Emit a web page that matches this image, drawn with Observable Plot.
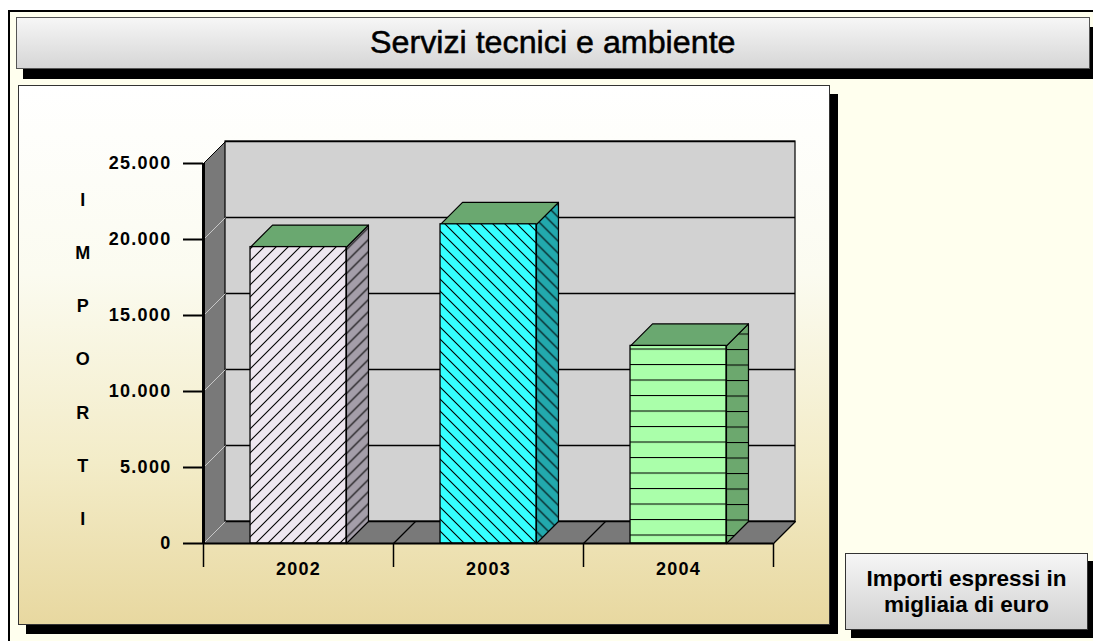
<!DOCTYPE html>
<html>
<head>
<meta charset="utf-8">
<script src="https://cdn.jsdelivr.net/npm/d3@7"></script>
<script src="https://cdn.jsdelivr.net/npm/@observablehq/plot@0.6"></script>
<style>
  html, body { margin: 0; padding: 0; background: #ffffff; width: 1093px; height: 641px; overflow: hidden; }
  #frame { position: absolute; left: 8px; top: 10px; width: 1090px; height: 640px; border-left: 2px solid #000; border-top: 2px solid #000; background: #ffffee; }
  #title { position: absolute; left: 16px; top: 17px; width: 1072px; height: 50px; border: 1px solid #555; background: linear-gradient(#f6f6f6, #d6d6d6); box-shadow: 7px 10px 0 #000; display: flex; align-items: center; justify-content: center; color: #000; }
  #title span { display: inline-block; font-family: "Liberation Sans", Arial, sans-serif; font-size: 31px; transform: scaleX(1.04); -webkit-text-stroke: 0.5px #000; }
  #plotbox { position: absolute; left: 18px; top: 85px; width: 810px; height: 538px; border: 1px solid #333; background: linear-gradient(#ffffff 0%, #fbfbf0 35%, #f3ecc8 70%, #e8d8a0 100%); box-shadow: 8px 9px 0 #000; }
  #chart { position: absolute; left: 18px; top: 85px; }
  #note { position: absolute; left: 845px; top: 553px; width: 241px; height: 75px; border: 1px solid #333; background: linear-gradient(#f6f6f6, #d0d0d0); box-shadow: 6px 8px 0 #000; display: flex; align-items: center; justify-content: center; text-align: center; color: #000; }
  #note span { display: inline-block; font-family: "Liberation Sans", Arial, sans-serif; font-weight: bold; font-size: 22.5px; line-height: 26px; }
</style>
</head>
<body>
<div id="frame"></div>
<div id="title"><span>Servizi tecnici e ambiente</span></div>
<div id="plotbox"></div>
<div id="chart"></div>
<div id="note"><span>Importi espressi in<br>migliaia di euro</span></div>
<script>
// ---- data ----
const years = ["2002", "2003", "2004"];
const values = [19500, 21000, 13000];
const yTicks = [0, 5000, 10000, 15000, 20000, 25000];
const yTickLabels = ["0", "5.000", "10.000", "15.000", "20.000", "25.000"];
const axisTitle = ["I", "M", "P", "O", "R", "T", "I"];

// ---- styles (per year) ----
const faceFill = {"2002": "url(#h2002)", "2003": "url(#h2003)", "2004": "url(#h2004)"};
const sideFill = {"2002": "url(#h2002s)", "2003": "url(#h2003s)", "2004": "url(#h2004s)"};
const topFill = "#6aa870";

// ---- layout ----
const W = 812, H = 540;
const mL = 185, mR = 57, mT = 78, mB = 82;
const yMax = 25000;
const depthPx = 22;
const DX = depthPx / ((W - mL - mR) / years.length);
const DY = depthPx / ((H - mT - mB) / yMax);
const hw = 0.2525;

function poly(id, fill, pts) {
  const closed = pts.concat([pts[0]]);
  return closed.map(([x, y]) => ({id, fill, x, y}));
}

const n = years.length;
const walls = [
  ...poly("side", "url(#dither)", [[0, 0], [0, yMax], [DX, yMax + DY], [DX, DY]]),
  ...poly("floor", "url(#dither)", [[0, 0], [n, 0], [n + DX, DY], [DX, DY]])
];

const bars = years.map((year, i) => ({year, value: values[i], i}));
const barPolys = bars.flatMap(d => {
  const x1 = d.i + 0.5 - hw, x2 = d.i + 0.5 + hw, v = d.value;
  return [
    ...poly("s" + d.year, sideFill[d.year], [[x2, 0], [x2 + DX, DY], [x2 + DX, v + DY], [x2, v]]),
    ...poly("t" + d.year, topFill, [[x1, v], [x2, v], [x2 + DX, v + DY], [x1 + DX, v + DY]])
  ];
});

const chart = Plot.plot({
  width: W, height: H,
  marginLeft: mL, marginRight: mR, marginTop: mT, marginBottom: mB,
  style: {background: "transparent", overflow: "visible", fontFamily: "Liberation Sans, Arial, sans-serif", fontWeight: "bold", fontSize: "18px", letterSpacing: "1.3px", color: "#000"},
  x: {domain: [0, n], range: [mL, W - mR]},
  y: {domain: [0, yMax], range: [H - mB, mT]},
  color: {type: "identity"},
  marks: [
    // side wall and floor
    Plot.line(walls, {x: "x", y: "y", z: "id", fill: "fill", stroke: "#000", strokeWidth: 1}),
    // back wall
    Plot.rect([0], {x1: DX, x2: n + DX, y1: DY, y2: yMax + DY, fill: "#d2d2d2", stroke: "#000", strokeWidth: 1.2}),
    // back wall gridlines
    Plot.ruleY(yTicks, {y: d => d + DY, x1: DX, x2: n + DX, stroke: "#000", strokeWidth: 1.5}),
    // side wall gridlines (faint)
    Plot.link(yTicks.slice(0, -1), {x1: () => 0, y1: d => d, x2: () => DX, y2: d => d + DY, stroke: "#c8c8c8", strokeWidth: 1}),
    // floor category separators
    Plot.link(d3.range(1, n + 1), {x1: d => d, y1: () => 0, x2: d => d + DX, y2: () => DY, stroke: "#000", strokeWidth: 1.2}),
    // bar side and top faces
    Plot.line(barPolys, {x: "x", y: "y", z: "id", fill: "fill", stroke: "#000", strokeWidth: 1.2, strokeLinejoin: "round"}),
    // bar front faces
    Plot.rect(bars, {x1: d => d.i + 0.5 - hw, x2: d => d.i + 0.5 + hw, y1: () => 0, y2: "value", fill: d => faceFill[d.year], stroke: "#000", strokeWidth: 1.3}),
    // front axis lines
    Plot.ruleX([0], {y1: 0, y2: yMax, stroke: "#000", strokeWidth: 3}),
    Plot.ruleY([0], {x1: 0, x2: n, stroke: "#000", strokeWidth: 2}),
    // y axis
    Plot.axisY({ticks: yTicks, tickFormat: d => yTickLabels[yTicks.indexOf(d)], tickSize: 20, tickPadding: 12, strokeWidth: 2, stroke: "#000", fontSize: 18, fontWeight: "bold", label: null}),
    // category boundary ticks
    Plot.axisX({ticks: d3.range(0, n + 1), tickSize: 24, tickFormat: () => "", strokeWidth: 1.5, stroke: "#000", label: null}),
    // category labels
    Plot.axisX({ticks: years.map((y, i) => i + 0.5), tickSize: 0, tickPadding: 19, tickFormat: d => years[Math.floor(d)], fontSize: 18, fontWeight: "bold", label: null}),
    // vertical axis title
    Plot.text([axisTitle.join("\n")], {frameAnchor: "left", dx: -120, dy: -5, text: d => d, lineHeight: 2.95, fontSize: 18, fontWeight: "bold", textAnchor: "middle"})
  ]
});

// pattern definitions
const defs = d3.select(chart).insert("defs", ":first-child");
function hatch(id, bg, path, w, h) {
  const p = defs.append("pattern").attr("id", id).attr("patternUnits", "userSpaceOnUse").attr("width", w).attr("height", h);
  p.append("rect").attr("width", w).attr("height", h).attr("fill", bg);
  if (path) p.append("path").attr("d", path).attr("stroke", "#000").attr("stroke-width", 1.1).attr("fill", "none");
}
const s = 12;
const fwd = `M0,${s} L${s},0 M${-s/2},${s/2} L${s/2},${-s/2} M${s/2},${s*1.5} L${s*1.5},${s/2}`;
const bwd = `M0,0 L${s},${s} M${-s/2},${s/2} L${s/2},${s*1.5} M${s/2},${-s/2} L${s*1.5},${s/2}`;
hatch("h2002", "#eee6f0", fwd, s, s);
hatch("h2002s", "#a49ea9", fwd, s, s);
hatch("h2003", "#35ffff", bwd, s, s);
hatch("h2003s", "#22a9ad", bwd, s, s);
hatch("h2004", "#aaffaa", "M0,0.5 L10,0.5", 10, 15.5);
hatch("h2004s", "#6ca86e", "M0,0.5 L10,0.5", 10, 15.5);
const dp = defs.append("pattern").attr("id", "dither").attr("patternUnits", "userSpaceOnUse").attr("width", 2).attr("height", 2);
dp.append("rect").attr("width", 2).attr("height", 2).attr("fill", "#848484");
dp.append("rect").attr("width", 1).attr("height", 1).attr("fill", "#6e6e6e");
dp.append("rect").attr("x", 1).attr("y", 1).attr("width", 1).attr("height", 1).attr("fill", "#6e6e6e");

document.getElementById("chart").appendChild(chart);
</script>
</body>
</html>
